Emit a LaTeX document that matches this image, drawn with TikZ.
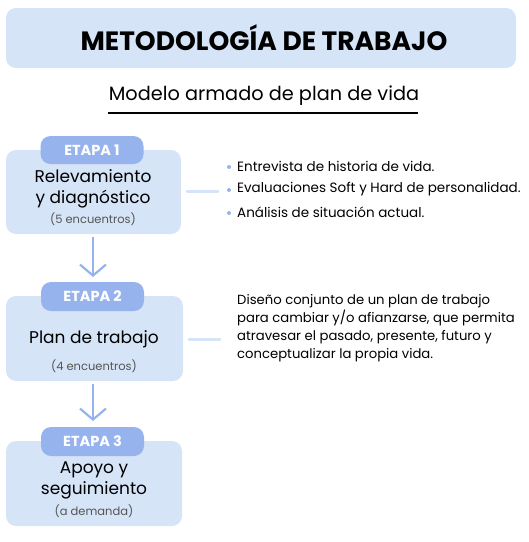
\documentclass[tikz,border=0pt]{standalone}
\usepackage{fontspec}
\setmainfont{Poppins}
\usetikzlibrary{arrows.meta}
\definecolor{boxbg}{HTML}{D6E4F7}
\definecolor{tabbg}{HTML}{97B3EE}
\definecolor{subgray}{HTML}{555555}
\begin{document}
\begin{tikzpicture}[x=1pt,y=-1pt,
  panel/.style={fill=boxbg,rounded corners=10pt},
  tab/.style={fill=tabbg,rounded corners=10pt},
  tabtxt/.style={text=white,font=\fontsize{14.5}{16}\selectfont\bfseries},
  stagetxt/.style={align=center,font=\fontsize{17}{21}\selectfont,inner sep=0pt},
  subtxt/.style={text=subgray,font=\fontsize{11.5}{13}\selectfont,inner sep=0pt},
  linkline/.style={draw=boxbg,line width=3pt,line cap=round},
  flowarrow/.style={draw=tabbg,line width=2.2pt,-{Straight Barb[length=11pt,width=26pt,line width=2.2pt]}},
  bullettxt/.style={anchor=west,font=\fontsize{13.5}{15}\selectfont,inner sep=0pt},
  dot/.style={circle,fill=tabbg,inner sep=0pt,minimum size=4pt}
]
\useasboundingbox (0,0) rectangle (529,542);
% title
\fill[panel] (6,8) rectangle (516,68);
\node[font=\fontsize{26.5}{30}\selectfont\bfseries] (title) at (264,38) {METODOLOGÍA DE TRABAJO};
\node[font=\fontsize{19.3}{23}\selectfont] (sub) at (264,96) {Modelo armado de plan de vida};
\coordinate (ul1) at (108,113);
\coordinate (ul2) at (418,113);
\draw[line width=2pt] (ul1) -- (ul2);

% stage 1
\fill[panel] (6,150) rectangle (181,234);
\node[tab,minimum width=103pt,minimum height=28pt] (t1) at (92,150) {};
\node[tabtxt] at (t1) {ETAPA 1};
\node[stagetxt] (s1) at (93,189) {Relevamiento\\y diagnóstico};
\node[subtxt] (n1) at (93,219) {(5 encuentros)};
\coordinate (l1a) at (187,191);
\coordinate (l1b) at (218,191);
\draw[linkline] (l1a) -- (l1b);
\node[dot] (d1) at (229,167) {};
\node[dot] (d2) at (229,190) {};
\node[dot] (d3) at (229,213) {};
\node[bullettxt] (b1) at (237,166) {Entrevista de historia de vida.};
\node[bullettxt] (b2) at (237,189) {Evaluaciones Soft y Hard de personalidad.};
\node[bullettxt] (b3) at (237,212) {Análisis de situación actual.};

% arrow 1
\coordinate (a1s) at (93,237);
\coordinate (a1e) at (93,277);
\draw[flowarrow] (a1s) -- (a1e);

% stage 2
\fill[panel] (6,296) rectangle (183,381);
\node[tab,minimum width=103pt,minimum height=29pt] (t2) at (92.5,296.5) {};
\node[tabtxt] at (t2) {ETAPA 2};
\node[stagetxt] (s2) at (94,339) {Plan de trabajo};
\node[subtxt] (n2) at (94,366) {(4 encuentros)};
\coordinate (l2a) at (189,339);
\coordinate (l2b) at (220,339);
\draw[linkline] (l2a) -- (l2b);
\node[anchor=north west,align=left,inner sep=0pt,font=\fontsize{13.2}{18}\selectfont] (p2) at (237,294) {Diseño conjunto de un plan de trabajo\\para cambiar y/o afianzarse, que permita\\atravesar el pasado, presente, futuro y\\conceptualizar la propia vida.};

% arrow 2
\coordinate (a2s) at (93,384);
\coordinate (a2e) at (93,421);
\draw[flowarrow] (a2s) -- (a2e);

% stage 3
\fill[panel] (6,441) rectangle (182,526);
\node[tab,minimum width=103pt,minimum height=29pt] (t3) at (92.5,441.5) {};
\node[tabtxt] at (t3) {ETAPA 3};
\node[stagetxt] (s3) at (94,480) {Apoyo y\\seguimiento};
\node[subtxt] (n3) at (94,511) {(a demanda)};
\end{tikzpicture}
\end{document}
